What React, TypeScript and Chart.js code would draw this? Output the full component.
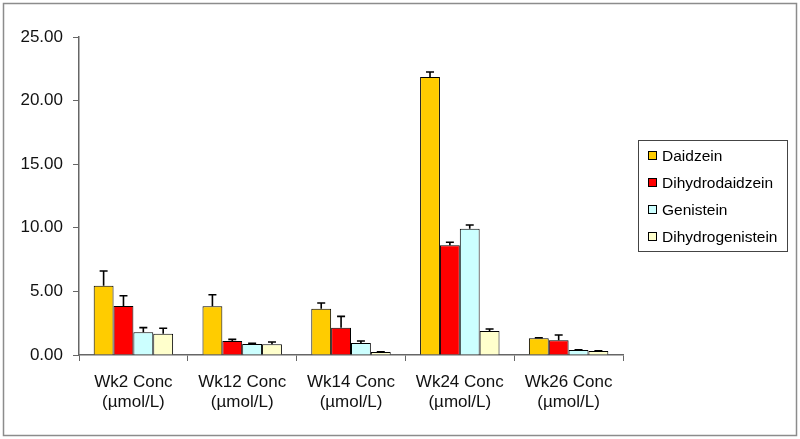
import React, { useEffect, useRef } from "react";
import { Chart, registerables } from "chart.js";

Chart.register(...registerables);

const categories: string[][] = [
  ["Wk2 Conc", "(µmol/L)"],
  ["Wk12 Conc", "(µmol/L)"],
  ["Wk14 Conc", "(µmol/L)"],
  ["Wk24 Conc", "(µmol/L)"],
  ["Wk26 Conc", "(µmol/L)"],
];

const seriesNames = ["Daidzein", "Dihydrodaidzein", "Genistein", "Dihydrogenistein"];

const daidzein = [5.45, 3.83, 3.64, 21.85, 1.31];
const dihydrodaidzein = [3.85, 1.1, 2.15, 8.62, 1.16];
const genistein = [1.78, 0.86, 0.94, 9.93, 0.39];
const dihydrogenistein = [1.68, 0.84, 0.24, 1.89, 0.31];

const daidzeinErr = [1.15, 0.91, 0.45, 0.4, 0.05];
const dihydrodaidzeinErr = [0.81, 0.13, 0.89, 0.24, 0.41];
const genisteinErr = [0.37, 0.05, 0.16, 0.29, 0.02];
const dihydrogenisteinErr = [0.42, 0.18, 0.02, 0.15, 0.02];

const yTicks = [0, 5, 10, 15, 20, 25];

const colors = ["#FFCC00", "#FF0000", "#CCFFFF", "#FFFFCC"];

const FONT = "'Liberation Sans', Arial, sans-serif";

export default function App() {
  const ref = useRef<HTMLCanvasElement | null>(null);

  useEffect(() => {
    if (!ref.current) return;
    const values = [daidzein, dihydrodaidzein, genistein, dihydrogenistein];
    const errors = [daidzeinErr, dihydrodaidzeinErr, genisteinErr, dihydrogenisteinErr];

    const frame = {
      id: "frame",
      beforeDraw(chart: any) {
        const ctx = chart.ctx;
        ctx.save();
        ctx.fillStyle = "#ffffff";
        ctx.fillRect(0, 0, chart.width, chart.height);
        ctx.strokeStyle = "#8c8c8c";
        ctx.lineWidth = 1.5;
        ctx.strokeRect(3.5, 3.5, chart.width - 7, chart.height - 7);
        ctx.restore();
      },
    };

    const errorBars = {
      id: "errorBars",
      afterDatasetsDraw(chart: any) {
        const ctx = chart.ctx;
        const yScale = chart.scales.y;
        ctx.save();
        ctx.strokeStyle = "#000000";
        ctx.lineWidth = 1.6;
        chart.data.datasets.forEach((ds: any, i: number) => {
          const meta = chart.getDatasetMeta(i);
          meta.data.forEach((bar: any, j: number) => {
            const v = ds.data[j];
            const e = errors[i][j];
            const yTop = yScale.getPixelForValue(v + e);
            ctx.beginPath();
            ctx.moveTo(bar.x, bar.y);
            ctx.lineTo(bar.x, yTop);
            ctx.moveTo(bar.x - 4, yTop);
            ctx.lineTo(bar.x + 4, yTop);
            ctx.stroke();
          });
        });
        ctx.restore();
      },
    };

    const legendBox = {
      id: "legendBox",
      afterDraw(chart: any) {
        const ctx = chart.ctx;
        const area = chart.chartArea;
        const left = area.right + 15;
        const w = 149;
        const h = 111;
        const top = Math.round((area.top + area.bottom) / 2 - h / 2) - 1;
        ctx.save();
        ctx.strokeStyle = "#444444";
        ctx.lineWidth = 1;
        ctx.strokeRect(left + 0.5, top + 0.5, w, h);
        ctx.font = `15.5px ${FONT}`;
        ctx.textBaseline = "middle";
        ctx.textAlign = "left";
        seriesNames.forEach((name, i) => {
          const cy = top + 16 + i * 27;
          ctx.fillStyle = colors[i];
          ctx.fillRect(left + 10.5, cy - 4.5, 8, 8);
          ctx.strokeStyle = "#000000";
          ctx.strokeRect(left + 10.5, cy - 4.5, 8, 8);
          ctx.fillStyle = "#000000";
          ctx.fillText(name, left + 24, cy + 0.5);
        });
        ctx.restore();
      },
    };

    const chart = new Chart(ref.current, {
      type: "bar",
      data: {
        labels: categories,
        datasets: seriesNames.map((name, i) => ({
          label: name,
          data: values[i],
          backgroundColor: colors[i],
          borderColor: "#000000",
          borderWidth: 1,
          categoryPercentage: 0.73,
          barPercentage: 1.0,
        })),
      },
      options: {
        animation: false,
        responsive: false,
        maintainAspectRatio: false,
        layout: { padding: { left: 0, top: 37, right: 177, bottom: 0 } },
        plugins: {
          legend: { display: false },
          tooltip: { enabled: false },
        },
        scales: {
          x: {
            afterFit(scale: any) {
              scale.height = 84;
            },
            grid: {
              offset: true,
              drawOnChartArea: false,
              drawTicks: true,
              tickLength: 6,
              color: "#666666",
              lineWidth: 1,
            },
            border: { color: "#666666", width: 1.5 },
            ticks: {
              font: { family: FONT, size: 17 },
              color: "#111111",
              padding: 11,
              maxRotation: 0,
              autoSkip: false,
            },
          },
          y: {
            min: 0,
            max: 25,
            afterFit(scale: any) {
              scale.width = 79;
            },
            afterBuildTicks(scale: any) {
              scale.ticks = yTicks.map((v) => ({ value: v }));
            },
            grid: {
              drawOnChartArea: false,
              drawTicks: true,
              tickLength: 6,
              color: "#666666",
              lineWidth: 1,
            },
            border: { color: "#666666", width: 1.5 },
            ticks: {
              font: { family: FONT, size: 17 },
              color: "#111111",
              padding: 10,
              callback: (v: any) => Number(v).toFixed(2),
            },
          },
        },
      },
      plugins: [frame, errorBars, legendBox],
    });
    return () => chart.destroy();
  }, []);

  return (
    <div style={{ position: "absolute", left: 0, top: 0, width: 800, height: 439 }}>
      <canvas ref={ref} width={800} height={439} style={{ width: 800, height: 439, display: "block" }} />
    </div>
  );
}
